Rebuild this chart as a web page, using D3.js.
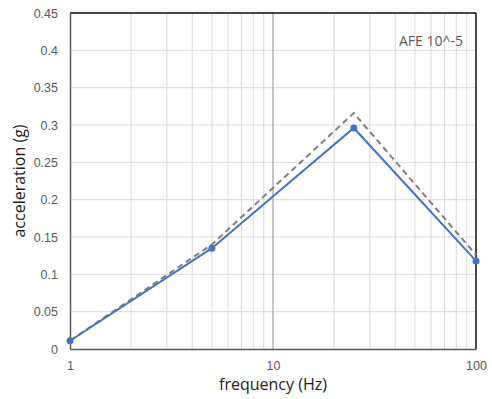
<!DOCTYPE html>
<html>
<head>
<meta charset="utf-8">
<script src="https://cdn.jsdelivr.net/npm/d3@7"></script>
<style>
  body { margin: 0; background: #fff; }
  svg { display: block; font-family: "Open Sans", "Liberation Sans", sans-serif; }
  .tick text { fill: #595959; font-size: 12.5px; }
</style>
</head>
<body>
<svg id="chart" width="492" height="399"></svg>
<script>
const freqs = [1, 5, 25, 100];
const accelSolid = [0.011, 0.135, 0.296, 0.118];
const accelDashed = [0.011, 0.14, 0.316, 0.126];
const yTicks = [0, 0.05, 0.1, 0.15, 0.2, 0.25, 0.3, 0.35, 0.4, 0.45];
const xTicks = [1, 10, 100];
const minorX = [2, 3, 4, 5, 6, 7, 8, 9, 20, 30, 40, 50, 60, 70, 80, 90];

const svg = d3.select("#chart");
const m = { left: 70, right: 476, top: 13, bottom: 349 };

const x = d3.scaleLog().domain([1, 100]).range([m.left, m.right]);
const y = d3.scaleLinear().domain([0, 0.45]).range([m.bottom, m.top]);

// grid
svg.append("g").selectAll("line").data(minorX).join("line")
  .attr("x1", (d) => x(d)).attr("x2", (d) => x(d))
  .attr("y1", m.top).attr("y2", m.bottom)
  .attr("stroke", "#d9d9d9").attr("stroke-width", 1);
svg.append("g").selectAll("line").data(yTicks.slice(1)).join("line")
  .attr("x1", m.left).attr("x2", m.right)
  .attr("y1", (d) => y(d)).attr("y2", (d) => y(d))
  .attr("stroke", "#d9d9d9").attr("stroke-width", 1);
svg.append("line")
  .attr("x1", x(10)).attr("x2", x(10)).attr("y1", m.top).attr("y2", m.bottom)
  .attr("stroke", "#8c8c8c").attr("stroke-width", 1);

// frame
svg.append("line").attr("x1", m.left).attr("x2", m.right).attr("y1", m.top).attr("y2", m.top)
  .attr("stroke", "#111").attr("stroke-width", 1.5);
svg.append("line").attr("x1", m.right).attr("x2", m.right).attr("y1", m.top).attr("y2", m.bottom)
  .attr("stroke", "#111").attr("stroke-width", 1.5);

// axes
const yAxis = svg.append("g").attr("transform", `translate(${m.left},0)`)
  .call(d3.axisLeft(y).tickValues(yTicks).tickSize(0).tickPadding(12).tickFormat((d) => d3.format("~g")(d)));
yAxis.select(".domain").attr("stroke", "#595959").attr("stroke-width", 1.5);
const xAxis = svg.append("g").attr("transform", `translate(0,${m.bottom})`)
  .call(d3.axisBottom(x).tickValues(xTicks).tickSize(0).tickPadding(12).tickFormat(d3.format("d")));
xAxis.select(".domain").attr("stroke", "#595959").attr("stroke-width", 1.5);

// series
const pts = (vals) => freqs.map((f, i) => ({ f, v: vals[i] }));
const line = d3.line().x((d) => x(d.f)).y((d) => y(d.v));
svg.append("path").datum(pts(accelDashed)).attr("d", line)
  .attr("fill", "none").attr("stroke", "#7f7f7f").attr("stroke-width", 2).attr("stroke-dasharray", "6,4");
svg.append("path").datum(pts(accelSolid)).attr("d", line)
  .attr("fill", "none").attr("stroke", "#4472c4").attr("stroke-width", 2);
svg.append("g").selectAll("circle").data(pts(accelSolid)).join("circle")
  .attr("cx", (d) => x(d.f)).attr("cy", (d) => y(d.v)).attr("r", 3.5)
  .attr("fill", "#4472c4");

// labels
svg.append("text").attr("x", 463).attr("y", 46).attr("text-anchor", "end")
  .attr("fill", "#595959").attr("font-size", 14).text("AFE 10^-5");
svg.append("text").attr("x", (m.left + m.right) / 2).attr("y", 390).attr("text-anchor", "middle")
  .attr("fill", "#222").attr("font-size", 16).text("frequency (Hz)");
svg.append("text").attr("transform", `translate(25,${(m.top + m.bottom) / 2}) rotate(-90)`)
  .attr("text-anchor", "middle").attr("fill", "#222").attr("font-size", 16).text("acceleration (g)");
</script>
</body>
</html>
